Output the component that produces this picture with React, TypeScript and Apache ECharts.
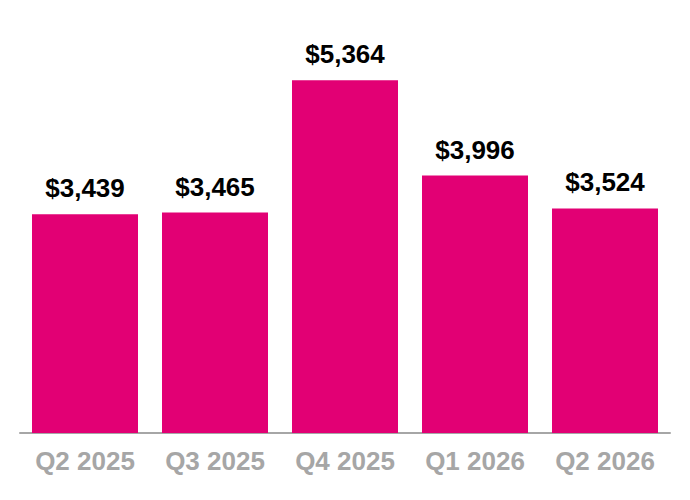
import { useEffect, useRef } from 'react';
import * as echarts from 'echarts';

// 季度营收（百万美元）
const QUARTERS = ['Q2 2025', 'Q3 2025', 'Q4 2025', 'Q1 2026', 'Q2 2026'];
const VALUES = [3439, 3465, 5364, 3996, 3524];

const MAGENTA = '#e20074';
const GREY = '#a6a6a6';
const FONT = "Arial, 'Liberation Sans', sans-serif";

export default function App() {
  const ref = useRef<HTMLDivElement>(null);

  useEffect(() => {
    if (!ref.current) return;
    document.body.style.margin = '0';
    const chart = echarts.init(ref.current, null, { renderer: 'svg' });
    chart.setOption({
      animation: false,
      grid: { left: 20, right: 20, top: 36, bottom: 67 },
      xAxis: {
        type: 'category',
        data: QUARTERS,
        axisTick: { show: false },
        axisLine: { lineStyle: { color: GREY, width: 2 } },
        axisLabel: {
          color: GREY,
          fontFamily: FONT,
          fontWeight: 'bold',
          fontSize: 26,
          margin: 15,
        },
      },
      yAxis: {
        type: 'value',
        // 轴底不是 0，与原图柱高比例一致
        min: 300,
        max: 6000,
        show: false,
        splitLine: { show: false },
      },
      series: [
        {
          type: 'bar',
          data: VALUES,
          barWidth: 106,
          itemStyle: { color: MAGENTA },
          label: {
            show: true,
            position: 'top',
            distance: 13,
            color: '#000',
            fontFamily: FONT,
            fontWeight: 'bold',
            fontSize: 26,
            formatter: (p: any) => '$' + p.value.toLocaleString('en-US'),
          },
        },
      ],
    });
    return () => chart.dispose();
  }, []);

  return <div ref={ref} style={{ width: 690, height: 500 }} />;
}
